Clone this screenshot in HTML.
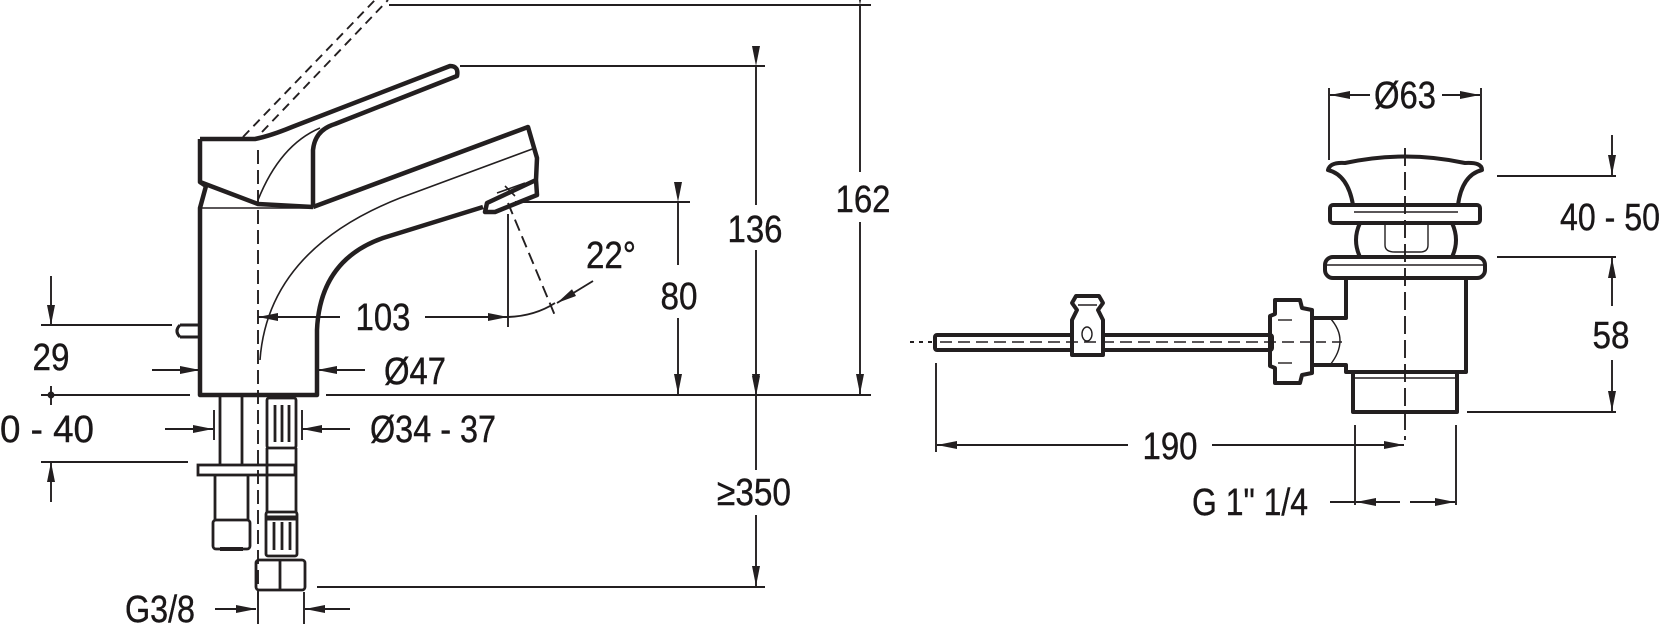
<!DOCTYPE html>
<html><head><meta charset="utf-8"><style>
html,body{margin:0;padding:0;background:#fff;}
svg{display:block;}
text{font-family:"Liberation Sans",sans-serif;font-size:38px;fill:#1a1718;stroke:#1a1718;stroke-width:0.4;}
</style></head><body>
<svg width="1670" height="624" viewBox="0 0 1670 624" xmlns="http://www.w3.org/2000/svg">
<defs>
<marker id="a" viewBox="0 0 20 8" refX="20" refY="4" markerWidth="20" markerHeight="8" markerUnits="userSpaceOnUse" orient="auto"><path d="M0,0 L20,4 L0,8 Z" fill="#231f20"/></marker>
</defs>
<g stroke="#231f20" fill="none" stroke-width="1.9">
<line x1="389" y1="5" x2="871" y2="5"/>
<line x1="860" y1="5" x2="860" y2="172" marker-start="url(#a)"/>
<line x1="860" y1="222" x2="860" y2="394" marker-end="url(#a)"/>
<line x1="41" y1="395" x2="190" y2="395"/>
<line x1="326" y1="395" x2="871" y2="395"/>
<line x1="460" y1="66" x2="765" y2="66"/>
<line x1="756" y1="66" x2="756" y2="205" marker-start="url(#a)"/>
<line x1="756" y1="250" x2="756" y2="394" marker-end="url(#a)"/>
<line x1="515" y1="202" x2="690" y2="202"/>
<line x1="678" y1="202" x2="678" y2="265" marker-start="url(#a)"/>
<line x1="678" y1="318" x2="678" y2="394" marker-end="url(#a)"/>
<line x1="756" y1="396" x2="756" y2="470" marker-start="url(#a)"/>
<line x1="756" y1="515" x2="756" y2="586" marker-end="url(#a)"/>
<line x1="317" y1="587" x2="765" y2="587"/>
<line x1="340" y1="317" x2="258" y2="317" marker-end="url(#a)"/>
<line x1="425" y1="317" x2="508" y2="317" marker-end="url(#a)"/>
<line x1="508" y1="214" x2="508" y2="327"/>
<line x1="508" y1="203" x2="556" y2="318" stroke-dasharray="12,6"/>
<path d="M508,317 Q535,316 555,303"/>
<line x1="593" y1="281" x2="557" y2="303" marker-end="url(#a)"/>
<line x1="51" y1="276" x2="51" y2="325" marker-end="url(#a)"/>
<line x1="41" y1="325" x2="172" y2="325"/>
<line x1="51" y1="386" x2="51" y2="405"/>
<circle cx="51" cy="395" r="2.5" fill="#231f20"/>
<line x1="41" y1="462" x2="188" y2="462"/>
<line x1="51" y1="502" x2="51" y2="462" marker-end="url(#a)"/>
<line x1="152" y1="370" x2="200" y2="370" marker-end="url(#a)"/>
<line x1="365" y1="370" x2="317" y2="370" marker-end="url(#a)"/>
<line x1="165" y1="429" x2="213" y2="429" marker-end="url(#a)"/>
<line x1="350" y1="429" x2="302" y2="429" marker-end="url(#a)"/>
<line x1="214" y1="410" x2="214" y2="440"/>
<line x1="302" y1="410" x2="302" y2="440"/>
<line x1="215" y1="609" x2="256" y2="609" marker-end="url(#a)"/>
<line x1="350" y1="609" x2="305" y2="609" marker-end="url(#a)"/>
<line x1="258" y1="592" x2="258" y2="624"/>
<line x1="304" y1="592" x2="304" y2="624"/>
<line x1="243" y1="137" x2="375" y2="0" stroke-dasharray="9,6"/>
<line x1="262" y1="132" x2="388" y2="0" stroke-dasharray="9,6"/>
<line x1="258" y1="150" x2="258" y2="600" stroke-dasharray="14,6"/>
</g>
<g stroke="#231f20" fill="none" stroke-width="4.5" stroke-linejoin="round">
<path d="M200,139 L255,139 Q270,136 292,127 L450,66 Q459,66 457,76 L335,124 Q315,130 313,150 L313,207"/>
<path d="M200,139 L200,182 L258,204 L313,207"/>
<path d="M200,182 L206,186 L200,208 L200,395 L317,395 L317,330 Q320,260 383,238 L483,207"/>
<path d="M313,207 L528,127 L537,158 L536,180 L487,203 L485,212 L495,212 L537,195 L536,180"/>
<path d="M180,325 L200,325 M180,337 L200,337 M180,325 Q174,331 180,337" stroke-width="3"/>
</g>
<g stroke="#231f20" fill="none" stroke-width="1.6">
<path d="M200,208 L313,208"/>
<path d="M260,360 Q268,250 400,198 L535,148"/>
<path d="M258,200 Q280,145 320,128"/>
<path d="M497,193 L525,183 M505,186 L515,196"/>
</g>
<g stroke="#231f20" fill="none" stroke-width="2.8">
<line x1="220" y1="396" x2="220" y2="465"/><line x1="242" y1="396" x2="242" y2="465"/>
<rect x="198" y="465" width="97" height="10"/>
<line x1="215" y1="475" x2="215" y2="520"/><line x1="248" y1="475" x2="248" y2="520"/>
<rect x="213" y="520" width="37" height="29" rx="3"/>
<line x1="220" y1="549" x2="243" y2="549" stroke-width="4"/>
<rect x="267" y="398" width="29" height="50" rx="2"/>
<line x1="275" y1="405" x2="275" y2="442"/><line x1="282" y1="405" x2="282" y2="442"/><line x1="289" y1="405" x2="289" y2="442"/>
<line x1="267" y1="448" x2="267" y2="512"/><line x1="296" y1="448" x2="296" y2="512"/>
<rect x="266" y="512" width="31" height="44" rx="2"/>
<line x1="266" y1="518" x2="297" y2="518" stroke-width="5"/>
<line x1="274" y1="522" x2="274" y2="550"/><line x1="282" y1="522" x2="282" y2="550"/><line x1="290" y1="522" x2="290" y2="550"/>
<rect x="256" y="560" width="49" height="30" rx="3"/>
<line x1="280" y1="560" x2="280" y2="590"/>
</g>
<g stroke="#231f20" fill="none" stroke-width="1.9">
<line x1="1329" y1="88" x2="1329" y2="160"/>
<line x1="1481" y1="88" x2="1481" y2="160"/>
<line x1="1370" y1="95" x2="1330" y2="95" marker-end="url(#a)"/>
<line x1="1442" y1="95" x2="1480" y2="95" marker-end="url(#a)"/>
<line x1="1612" y1="135" x2="1612" y2="175" marker-end="url(#a)"/>
<line x1="1497" y1="176" x2="1616" y2="176"/>
<line x1="1497" y1="257" x2="1616" y2="257"/>
<line x1="1612" y1="306" x2="1612" y2="258" marker-end="url(#a)"/>
<line x1="1612" y1="360" x2="1612" y2="411" marker-end="url(#a)"/>
<line x1="1467" y1="412" x2="1616" y2="412"/>
<line x1="936" y1="363" x2="936" y2="452"/>
<line x1="1128" y1="445" x2="937" y2="445" marker-end="url(#a)"/>
<line x1="1212" y1="445" x2="1404" y2="445" marker-end="url(#a)"/>
<line x1="1355" y1="425" x2="1355" y2="505"/>
<line x1="1456" y1="425" x2="1456" y2="505"/>
<line x1="1330" y1="502" x2="1355" y2="502"/>
<line x1="1400" y1="502" x2="1356" y2="502" marker-end="url(#a)"/>
<line x1="1410" y1="502" x2="1455" y2="502" marker-end="url(#a)"/>
<line x1="1405" y1="148" x2="1405" y2="440" stroke-dasharray="18,6"/>
<line x1="910" y1="342" x2="935" y2="342" stroke-dasharray="4,5"/>
</g>
<g stroke="#231f20" fill="none" stroke-width="4" stroke-linejoin="round">
<path d="M1328,170 Q1330,162 1345,163 Q1405,150 1465,163 Q1482,162 1482,170 Q1462,175 1458,205 L1353,205 Q1348,175 1328,170 Z"/>
<rect x="1330" y="205" width="150" height="18" rx="3"/>
<path d="M1360,223 Q1352,240 1360,257 M1452,223 Q1460,240 1452,257"/>
<rect x="1325" y="257" width="160" height="21" rx="8"/>
<path d="M1346,278 L1346,318 L1312,318 L1312,365 L1346,365 L1346,372 L1466,372 L1466,278"/>
<path d="M1353,372 L1353,412 L1457,412 L1457,372"/>
<path d="M1275,300 L1300,300 L1302,308 L1312,310 L1312,373 L1302,375 L1300,383 L1275,383 L1275,368 L1270,366 L1270,316 L1275,314 Z"/>
<rect x="935" y="335" width="337" height="15" rx="2"/>
<path d="M1072,303 L1076,296 L1099,296 L1103,303 L1098,310 L1103,320 L1103,355 L1072,355 L1072,320 L1077,310 Z" fill="#fff"/>
</g>
<g stroke="#231f20" fill="none" stroke-width="1.4">
<line x1="1354" y1="212" x2="1458" y2="212"/>
<path d="M1385,223 L1385,245 Q1385,252 1395,252 L1420,252 Q1428,252 1428,245 L1428,223"/>
<line x1="1325" y1="265" x2="1485" y2="265"/>
<line x1="1353" y1="378" x2="1457" y2="378"/>
<path d="M1330,318 Q1350,340 1330,365"/>
<line x1="1278" y1="320" x2="1292" y2="320"/><line x1="1278" y1="363" x2="1292" y2="363"/>
<line x1="940" y1="342" x2="1300" y2="342" stroke-dasharray="12,6"/>
<line x1="1300" y1="342" x2="1345" y2="342" stroke-dasharray="10,6"/>
<ellipse cx="1087" cy="334" rx="5" ry="7"/>
<line x1="1078" y1="305" x2="1097" y2="305"/>
</g>
<g text-anchor="middle">
<text x="863" y="212" textLength="55" lengthAdjust="spacingAndGlyphs">162</text>
<text x="755" y="242" textLength="55" lengthAdjust="spacingAndGlyphs">136</text>
<text x="679" y="309" textLength="37" lengthAdjust="spacingAndGlyphs">80</text>
<text x="754" y="505" textLength="74" lengthAdjust="spacingAndGlyphs">≥350</text>
<text x="383" y="330" textLength="55" lengthAdjust="spacingAndGlyphs">103</text>
<text x="611" y="268" textLength="50" lengthAdjust="spacingAndGlyphs">22°</text>
<text x="51" y="370" textLength="37" lengthAdjust="spacingAndGlyphs">29</text>
<text x="47" y="442" textLength="94" lengthAdjust="spacingAndGlyphs">0 - 40</text>
<text x="415" y="384" textLength="62" lengthAdjust="spacingAndGlyphs">Ø47</text>
<text x="433" y="442" textLength="126" lengthAdjust="spacingAndGlyphs">Ø34 - 37</text>
<text x="160" y="622" textLength="70" lengthAdjust="spacingAndGlyphs">G3/8</text>
<text x="1405" y="108" textLength="62" lengthAdjust="spacingAndGlyphs">Ø63</text>
<text x="1610" y="230" textLength="100" lengthAdjust="spacingAndGlyphs">40 - 50</text>
<text x="1611" y="348" textLength="37" lengthAdjust="spacingAndGlyphs">58</text>
<text x="1170" y="459" textLength="55" lengthAdjust="spacingAndGlyphs">190</text>
<text x="1250" y="515" textLength="116" lengthAdjust="spacingAndGlyphs">G 1" 1/4</text>
</g>
</svg>
</body></html>
